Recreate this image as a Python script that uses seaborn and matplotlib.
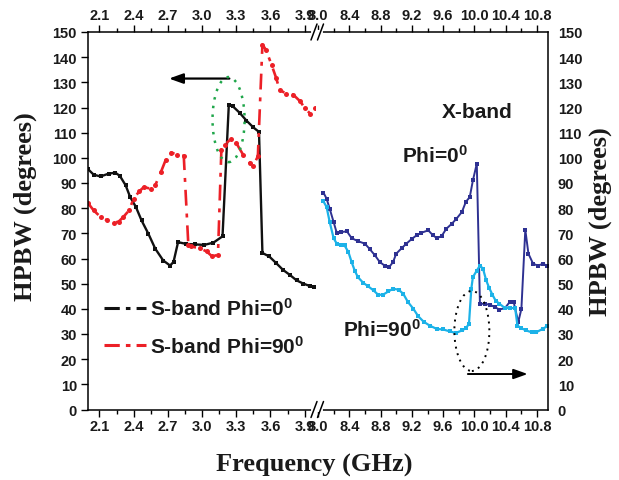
import numpy as np
import pandas as pd
import matplotlib
matplotlib.use("Agg")
import matplotlib.pyplot as plt
import seaborn as sns
from matplotlib.patches import Ellipse
from matplotlib.lines import Line2D

# ---------------- data ----------------
s_freq_phi0 = [2.00, 2.05, 2.11, 2.18, 2.24, 2.28, 2.33, 2.37, 2.42, 2.47, 2.53, 2.59,
               2.66, 2.72, 2.75, 2.79, 2.86, 2.94, 3.02, 3.10, 3.18, 3.235, 3.27, 3.33,
               3.39, 3.45, 3.50, 3.53, 3.59, 3.65, 3.71, 3.77, 3.83, 3.89, 3.95, 3.98]
s_hpbw_phi0 = [95.5, 93.3, 92.6, 93.7, 94.1, 92.8, 89.1, 84.4, 80.5, 75.1, 69.8, 63.9,
               59.2, 57.2, 58.6, 66.5, 65.8, 65.6, 65.4, 66.3, 68.8, 120.9, 120.5, 117.9,
               114.8, 112.1, 110.3, 62.2, 60.8, 58.2, 55.5, 53.5, 51.3, 50.0, 49.0, 48.6]

s_freq_phi90 = [2.00, 2.05, 2.11, 2.17, 2.23, 2.27, 2.31, 2.36, 2.40, 2.45, 2.49, 2.55,
                2.59, 2.64, 2.68, 2.73, 2.78, 2.84, 2.88, 2.90, 2.98, 3.04, 3.09, 3.14,
                3.17, 3.20, 3.255, 3.30, 3.36, 3.42, 3.45, 3.49, 3.53, 3.56, 3.61, 3.65,
                3.68, 3.74, 3.80, 3.86, 3.90, 3.95, 3.99]
s_hpbw_phi90 = [82.0, 79.1, 76.5, 75.1, 74.2, 74.7, 76.5, 79.1, 83.8, 86.7, 88.4, 87.7,
                89.1, 94.4, 99.0, 102.1, 101.3, 100.8, 65.5, 64.8, 64.1, 62.8, 60.8, 61.5,
                103.3, 105.2, 107.6, 105.9, 101.3, 98.0, 96.9, 100.6, 145.0, 143.0, 137.0, 131.8,
                127.1, 125.4, 125.1, 122.5, 119.9, 117.5, 119.9]

x_freq_phi0 = [8.07, 8.11, 8.15, 8.20, 8.24, 8.30, 8.37, 8.43, 8.51, 8.60, 8.66, 8.73,
               8.79, 8.86, 8.91, 8.96, 9.00, 9.07, 9.13, 9.20, 9.26, 9.32, 9.41, 9.47,
               9.52, 9.58, 9.64, 9.71, 9.77, 9.84, 9.89, 9.94, 9.98, 10.03, 10.07, 10.13,
               10.20, 10.26, 10.32, 10.39, 10.45, 10.50, 10.56, 10.60, 10.65, 10.69, 10.75,
               10.81, 10.88, 10.93]
x_hpbw_phi0 = [86.2, 83.8, 79.8, 74.5, 70.2, 70.5, 70.8, 68.1, 66.9, 65.9, 63.8, 61.2,
               58.6, 57.0, 56.6, 58.6, 61.9, 64.1, 65.9, 67.8, 69.2, 70.2, 71.2, 69.2,
               68.1, 68.9, 71.8, 73.8, 75.8, 78.5, 82.5, 84.4, 91.0, 97.7, 42.0, 42.0,
               41.6, 40.7, 39.7, 40.3, 42.7, 42.9, 34.7, 40.0, 71.4, 61.9, 57.9,
               57.2, 57.9, 57.0]

x_freq_phi90 = [8.07, 8.11, 8.15, 8.20, 8.24, 8.30, 8.34, 8.39, 8.43, 8.47, 8.51, 8.58,
                8.64, 8.71, 8.77, 8.83, 8.90, 8.96, 9.03, 9.09, 9.15, 9.22, 9.28, 9.35,
                9.43, 9.52, 9.60, 9.69, 9.76, 9.84, 9.89, 9.93, 9.96, 9.98, 10.03, 10.07,
                10.11, 10.15, 10.19, 10.23, 10.27, 10.32, 10.39, 10.45, 10.52, 10.55, 10.60,
                10.66, 10.73, 10.79, 10.87, 10.93]
x_hpbw_phi90 = [82.7, 80.5, 74.5, 68.1, 65.9, 65.5, 65.2, 62.5, 58.6, 55.2, 52.6, 50.3,
                49.0, 47.3, 45.6, 45.6, 46.9, 48.0, 47.6, 46.0, 42.7, 40.0, 37.1, 34.9,
                33.3, 32.0, 31.8, 31.0, 30.4, 31.4, 32.3, 34.0, 48.0, 52.6, 55.2, 57.2,
                55.9, 51.3, 48.2, 45.6, 43.3, 42.0, 40.3, 40.3, 40.3, 33.3, 32.3,
                31.4, 30.7, 30.7, 32.0, 33.1]

s_ticks = [2.1, 2.4, 2.7, 3.0, 3.3, 3.6, 3.9]
s_tick_labels = ["2.1", "2.4", "2.7", "3.0", "3.3", "3.6", "3.9"]
s_minor = [2.25, 2.55, 2.85, 3.15, 3.45, 3.75]
x_ticks = [8.0, 8.4, 8.8, 9.2, 9.6, 10.0, 10.4, 10.8]
x_tick_labels = ["8.0", "8.4", "8.8", "9.2", "9.6", "10.0", "10.4", "10.8"]
x_minor = [8.2, 8.6, 9.0, 9.4, 9.8, 10.2, 10.6]
y_ticks = list(range(0, 151, 10))

legend_labels = ["S-band Phi=0$^0$", "S-band Phi=90$^0$"]

# ---------------- style ----------------
sns.set_theme(style="white")
plt.rcParams['font.family'] = ['Liberation Sans', 'DejaVu Sans']
plt.rcParams['font.weight'] = 'bold'
plt.rcParams['mathtext.fontset'] = 'custom'
plt.rcParams['mathtext.rm'] = 'Liberation Sans:bold'
plt.rcParams['mathtext.it'] = 'Liberation Sans:bold'
plt.rcParams['mathtext.bf'] = 'Liberation Sans:bold'

W, H = 619, 481
fig = plt.figure(figsize=(W / 100, H / 100), dpi=100)
fig.patch.set_facecolor('white')

def fx(px):
    return px / W

def fy(py):
    return 1 - py / H

L, S, R, T, B = 88, 316, 548, 33, 410.5
axS = fig.add_axes([fx(L), fy(B), fx(S) - fx(L), fy(T) - fy(B)])
axX = fig.add_axes([fx(S), fy(B), fx(R) - fx(S), fy(T) - fy(B)])

BLACK = '#111111'
RED = '#ec2027'
NAVY = '#2e3192'
CYAN = '#1cb2e8'
TXT = '#1a1a1a'

sns.lineplot(x=s_freq_phi0, y=s_hpbw_phi0, ax=axS, color=BLACK, marker='s',
             markersize=3, markeredgewidth=0, linewidth=1.7, estimator=None,
             sort=False, legend=False)
sns.lineplot(x=s_freq_phi90, y=s_hpbw_phi90, ax=axS, color=RED, marker='o',
             markersize=3.6, markeredgewidth=0, linewidth=1.9,
             linestyle=(0, (6, 3, 1.5, 3)), estimator=None, sort=False, legend=False)
sns.lineplot(x=x_freq_phi0, y=x_hpbw_phi0, ax=axX, color=NAVY, marker='s',
             markersize=3.4, markeredgewidth=0, linewidth=1.4, estimator=None,
             sort=False, legend=False)
sns.lineplot(x=x_freq_phi90, y=x_hpbw_phi90, ax=axX, color=CYAN, marker='s',
             markersize=3.4, markeredgewidth=0, linewidth=1.6, estimator=None,
             sort=False, legend=False)

for ax in (axS, axX):
    ax.set_facecolor('white')
    ax.set_ylim(0, 150)
    ax.set_yticks(y_ticks)
    ax.set_xlabel('')
    ax.set_ylabel('')
    for sp in ax.spines.values():
        sp.set_color('black')
        sp.set_linewidth(1.1)
    ax.tick_params(axis='x', which='both', direction='out', bottom=True, top=True,
                   labelbottom=True, labeltop=True, colors='black', labelsize=10.5,
                   pad=2, width=1.0, labelcolor=TXT)
    ax.tick_params(axis='x', which='major', length=5)
    ax.tick_params(axis='x', which='minor', length=3)

axS.set_xlim(2.0, 4.0)
axS.set_xticks(s_ticks)
axS.set_xticklabels(s_tick_labels)
axS.set_xticks(s_minor, minor=True)
axS.spines['right'].set_visible(False)
axS.tick_params(axis='y', direction='out', left=True, right=False, length=5,
                width=1.0, labelsize=10.5, pad=3, colors='black', labelcolor=TXT)

axX.set_xlim(7.975, 10.94)
axX.set_xticks(x_ticks)
axX.set_xticklabels(x_tick_labels)
axX.set_xticks(x_minor, minor=True)
axX.spines['left'].set_visible(False)
axX.tick_params(axis='y', left=False, labelleft=False, right=True, labelright=True,
                direction='in', length=0, labelsize=10.5, pad=7, colors='black',
                labelcolor=TXT)

for ax in (axS, axX):
    for lab in ax.get_xticklabels() + ax.get_yticklabels():
        lab.set_fontweight('bold')

# ---------------- annotations ----------------
axS.annotate('', xy=(2.71, 131.5), xytext=(3.24, 131.5),
             arrowprops=dict(arrowstyle='-|>,head_length=0.7,head_width=0.25',
                             color='black', lw=1.6, shrinkA=0, shrinkB=0,
                             mutation_scale=12))
axS.add_patch(Ellipse((3.233, 115.2), 0.281, 33.8, fill=False, edgecolor='#1fa64a',
                      linestyle=(0, (1, 2.5)), linewidth=1.8, zorder=5))

axX.add_patch(Ellipse((9.967, 31.2), 0.447, 31.8, fill=False, edgecolor='black',
                      linestyle=(0, (1, 2.5)), linewidth=1.4, zorder=5))
axX.annotate('', xy=(10.68, 14.1), xytext=(9.916, 14.1),
             arrowprops=dict(arrowstyle='-|>,head_length=0.7,head_width=0.25',
                             color='black', lw=1.4, shrinkA=0, shrinkB=0,
                             mutation_scale=12))

axX.text(9.584, 116.4, 'X-band', fontsize=15, fontweight='bold', ha='left',
         va='baseline', color=TXT)
axX.text(9.073, 98.5, 'Phi=0$^0$', fontsize=15, fontweight='bold', ha='left',
         va='baseline', color=TXT)
axX.text(8.319, 29.4, 'Phi=90$^0$', fontsize=15, fontweight='bold', ha='left',
         va='baseline', color=TXT)

handles = [Line2D([0], [0], color=BLACK, lw=2.2, linestyle=(0, (5, 2, 1.5, 2))),
           Line2D([0], [0], color=RED, lw=2.2, linestyle=(0, (5, 2, 1.5, 2)))]
leg = fig.legend(handles, legend_labels, loc='upper left',
                 bbox_to_anchor=(fx(104), fy(298)), frameon=False,
                 prop={'weight': 'bold', 'size': 15, 'family': 'Liberation Sans'},
                 handlelength=2.0, handletextpad=0.2, labelspacing=0.75,
                 borderaxespad=0, borderpad=0)
for t in leg.get_texts():
    t.set_color(TXT)

# axis break marks
for yb in (B, T):
    fig.add_artist(Line2D([fx(312.5), fx(320.5)], [fy(yb), fy(yb)], color='white',
                          lw=3, transform=fig.transFigure, zorder=10))
    for x0 in (311, 317.5):
        fig.add_artist(Line2D([fx(x0), fx(x0 + 6)], [fy(yb + 8), fy(yb - 8)],
                              color='black', lw=1.1, transform=fig.transFigure,
                              zorder=11))

# axis titles
serif = ['Liberation Serif', 'DejaVu Serif']
fig.text(fx(314), fy(465), 'Frequency (GHz)', family=serif, fontsize=19,
         fontweight='bold', ha='center', va='center', color=TXT)
fig.text(fx(25), fy(207), 'HPBW (degrees)', family=serif, fontsize=19,
         fontweight='bold', ha='center', va='center', rotation=90, color=TXT)
fig.text(fx(600), fy(222), 'HPBW (degrees)', family=serif, fontsize=19,
         fontweight='bold', ha='center', va='center', rotation=90, color=TXT)

fig.savefig('out.png', dpi=100, facecolor='white')
